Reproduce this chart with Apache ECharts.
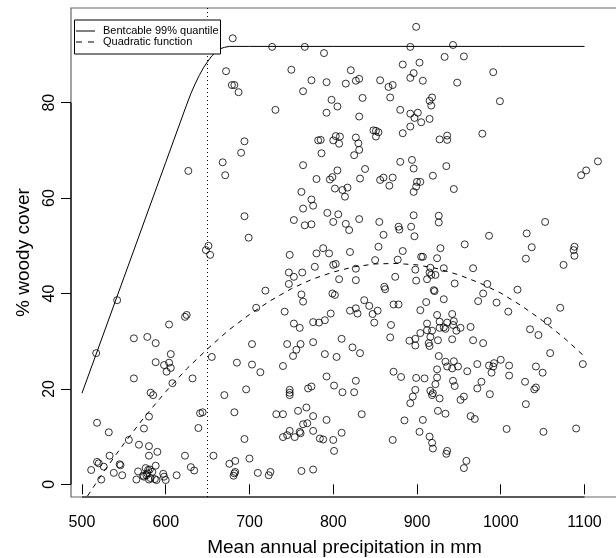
<!DOCTYPE html>
<html>
<head>
<meta charset="utf-8">
<script src="https://cdn.jsdelivr.net/npm/echarts@6/dist/echarts.min.js"></script>
<style>
html,body{margin:0;padding:0;background:#fff;}
#chart{width:616px;height:558px;}
</style>
</head>
<body>
<div id="chart"></div>
<script>
// Mean annual precipitation (mm) of each site
const precip = [
680,672,679,682,687,694,690,668,627,671,694,699,651,648,653,542,625,623,604,517,
562,578,588,606,588,598,604,606,601,562,608,632,582,585,655,703,685,703,713,696,
670,580,641,644,682,518,532,574,639,556,568,580,590,580,533,518,520,511,526,545,
546,538,548,523,565,567,573,576,578,579,581,574,577,582,584,588,587,589,580,597,
598,600,623,630,634,613,657,676,683,683,681,682,700,710,694,
745,761,756,752,776,810,823,832,790,804,740,792,801,811,827,825,748,748,748,770,
774,732,740,758,768,776,792,764,769,834,748,745,740,754,760,761,776,784,788,800,
810,801,723,725,762,776,868,891,898,898,904,912,916,914,915,925,926,872,881,899,
909,924,924,922,898,895,892,916,918,919,927,925,885,907,903,915,918,919,871,
942,967,979,1059,1098,934,936,942,944,949,960,972,986,992,991,989,1000,1010,1010,1042,
1050,1029,1040,1042,943,945,977,972,987,956,952,1030,934,964,969,1007,1051,1090,936,935,
959,956,
899,727,766,892,789,750,883,903,821,896,892,907,774,792,764,815,827,831,856,866,
871,835,868,798,805,731,792,831,880,918,915,917,892,901,897,905,915,892,883,848,
851,854,851,927,782,785,800,803,808,807,827,830,831,825,786,764,805,838,880,894,896,
943,933,956,991,948,999,936,936,978,935,1116,1102,1096,
780,796,799,832,856,860,871,900,904,899,896,867,802,811,817,814,762,774,776,764,
793,806,753,766,774,800,815,819,831,855,878,879,893,896,926,926,860,897,748,780,
788,795,820,854,883,905,907,928,924,850,877,778,800,803,827,747,753,763,747,807,
827,874,898,899,912,916,915,917,922,719,762,764,799,802,861,862,920,921,708,742,
753,760,776,783,790,797,820,827,829,837,843,847,853,849,872,878,869,911,904,924,
912,918,927,
919,944,1053,986,1031,957,1037,1088,1087,1088,1030,1075,932,967,945,984,1020,979,973,995,
932,1009,1071,1056,942,927,936,944,932,934,943,947,952,964,1035,1045
];
// % woody cover of each site
const woody = [
93.5,86.6,83.7,83.7,82.2,71.9,69.5,67.5,65.7,64.8,56.2,51.7,50.0,49.1,48.1,38.6,35.5,35.1,33.5,27.5,
30.6,30.9,29.6,27.3,25.6,25.0,25.5,24.4,23.6,22.2,21.2,22.2,19.2,18.7,26.7,29.4,25.5,25.1,23.5,19.9,
18.7,14.2,14.9,15.1,15.1,12.9,10.9,11.7,11.8,9.3,8.3,8.0,6.8,6.0,6.0,4.7,4.4,3.0,3.7,4.2,
4.0,2.4,1.9,1.0,1.0,2.7,1.8,3.4,2.3,3.0,3.1,1.6,1.9,1.3,2.6,3.9,1.1,0.9,1.0,2.2,
1.6,0.9,6.0,3.6,2.9,1.9,6.0,4.3,4.9,2.6,1.8,2.3,5.4,2.4,9.5,
29.4,29.4,28.2,26.9,29.8,30.5,28.7,27.5,27.3,26.7,24.8,22.6,20.7,19.3,21.7,19.3,19.8,19.2,18.7,20.1,
20.5,14.7,14.7,15.4,16.1,14.3,13.5,12.6,12.8,14.7,11.2,10.3,9.9,9.9,11.0,10.7,11.2,9.6,9.4,9.3,
10.8,7.0,1.9,2.6,2.8,3.1,30.8,30.1,30.5,29.1,31.7,32.3,30.9,29.6,29.0,30.2,26.9,23.6,22.5,22.3,
22.2,24.1,22.4,21.0,19.8,18.4,17.0,19.6,18.7,19.1,18.0,15.4,13.4,13.5,11.0,10.0,8.7,7.5,9.3,
30.4,30.2,29.6,27.5,25.2,25.7,24.7,24.3,25.8,24.7,23.7,25.2,24.9,25.4,24.7,23.4,26.1,24.9,22.8,24.7,
23.4,21.5,19.9,20.3,21.7,20.6,21.5,20.1,18.9,18.4,17.7,16.8,14.8,14.3,13.7,11.6,11.0,11.7,7.0,6.4,
4.9,3.4,
95.9,91.7,91.7,91.7,90.4,86.9,88.0,88.4,86.8,86.2,85.2,84.6,84.7,84.3,82.4,84.0,84.6,85.0,84.7,83.3,
83.7,81.0,81.1,80.6,79.2,78.5,77.9,77.1,78.5,81.1,80.4,79.4,77.7,77.9,76.8,75.9,76.6,75.0,73.6,74.2,
74.1,73.8,72.9,72.3,72.1,72.2,72.1,73.0,72.9,71.4,72.7,71.5,70.1,69.0,69.4,66.9,65.8,66.1,67.6,68.0,66.2,
92.1,89.6,89.7,86.4,84.2,80.3,73.1,72.2,73.5,66.7,67.7,65.8,64.8,
64.0,63.9,64.4,64.1,63.8,64.3,64.3,63.4,63.4,62.4,61.3,62.6,62.0,61.7,62.2,60.3,61.3,59.7,58.4,57.8,
56.9,56.6,55.4,54.3,54.5,55.0,54.6,53.3,55.6,55.0,54.0,53.4,54.0,56.4,56.3,54.9,52.3,52.0,48.1,48.4,
49.5,48.4,48.7,49.8,48.9,47.7,47.7,49.5,47.4,47.0,47.1,45.6,46.0,46.2,45.2,44.4,43.5,44.4,42.0,43.0,
42.8,43.5,45.0,42.7,43.0,45.4,44.4,43.9,43.9,40.6,39.8,38.3,40.0,39.7,41.4,40.9,40.7,40.5,37.0,36.2,
33.7,32.8,34.0,33.9,34.4,35.8,36.4,36.9,35.8,38.6,37.4,35.7,36.4,33.9,37.7,37.7,33.4,38.2,36.5,35.5,
33.7,32.2,32.8,
64.7,61.9,55.0,52.1,52.6,50.3,49.7,49.8,49.1,47.9,47.3,46.0,45.3,45.3,42.1,42.0,40.8,40.0,38.4,38.1,
38.8,36.2,37.0,34.2,35.7,34.1,33.9,34.2,32.9,32.6,33.4,32.2,32.8,33.0,32.5,31.3
];
// Bentcable 99% quantile curve
const bentX = [500,550,600,624,630,635,640,645,650,655,660,665,670,676,700,800,900,1000,1100];
const bentY = [19.1,43.3,67.5,79.1,81.9,83.9,85.7,87.3,88.6,89.8,90.6,91.3,91.6,91.8,91.8,91.8,91.8,91.8,91.8];
// Quadratic function curve
const quadX = [500,525,550,575,600,625,650,675,700,725,750,775,800,825,850,875,900,925,950,975,1000,1025,1050,1075,1100];
const quadY = [-4.2,2.4,8.5,14.2,19.4,24.2,28.4,32.3,35.6,38.5,41.0,43.0,44.5,45.6,46.2,46.3,46.0,45.2,43.9,42.2,40.1,37.4,34.3,30.8,26.8];
// Threshold (dotted vertical line)
const threshold = [650];
// Tick labels
const xTicks = [500,600,700,800,900,1000,1100];
const yTicks = [0,20,40,60,80];
const xRange = [486.9, 1140];
const yRange = [-2.66, 99.85];
const legendNames = ['Bentcable 99% quantile', 'Quadratic function'];

const FONT = 'Liberation Sans, Arial, Helvetica, sans-serif';
const pts = precip.map((x, i) => [x, woody[i]]);
const bent = bentX.map((x, i) => [x, bentY[i]]);
const quad = quadX.map((x, i) => [x, quadY[i]]);

const chart = echarts.init(document.getElementById('chart'), null, {renderer: 'canvas'});
chart.setOption({
  animation: false,
  backgroundColor: '#fff',
  grid: {left: 71, top: 8, bottom: 61, right: -2, outerBoundsMode: 'none', containLabel: false,
         show: true, borderColor: '#666', borderWidth: 1.2, backgroundColor: 'transparent'},
  graphic: [
    {type: 'rect', left: 74, top: 19.5, z: 100,
     shape: {width: 146, height: 34}, style: {fill: '#fff', stroke: '#000', lineWidth: 1}},
    {type: 'line', z: 101, shape: {x1: 76, y1: 31, x2: 95, y2: 31}, style: {stroke: '#000', lineWidth: 1}},
    {type: 'line', z: 101, shape: {x1: 76, y1: 42, x2: 95, y2: 42}, style: {stroke: '#000', lineWidth: 1, lineDash: [6, 6]}},
    {type: 'text', z: 101, x: 103, y: 31, style: {text: legendNames[0], font: '11px ' + FONT, fill: '#000', verticalAlign: 'middle'}},
    {type: 'text', z: 101, x: 103, y: 42, style: {text: legendNames[1], font: '11px ' + FONT, fill: '#000', verticalAlign: 'middle'}}
  ],
  xAxis: {
    type: 'value', min: xRange[0], max: xRange[1],
    axisLine: {show: false},
    splitLine: {show: false},
    axisTick: {show: true, inside: false, length: 10, lineStyle: {color: '#000', width: 1}, customValues: xTicks},
    axisLabel: {customValues: xTicks, formatter: v => String(v), fontSize: 16, fontFamily: FONT, color: '#000', margin: 18},
    name: 'Mean annual precipitation in mm', nameLocation: 'middle', nameGap: 41,
    nameTextStyle: {fontSize: 19, fontFamily: FONT, color: '#000'}
  },
  yAxis: {
    type: 'value', min: yRange[0], max: yRange[1],
    axisLine: {show: false},
    splitLine: {show: false},
    axisTick: {show: true, inside: false, length: 10, lineStyle: {color: '#000', width: 1}, customValues: yTicks},
    axisLabel: {customValues: yTicks, formatter: v => String(v), fontSize: 16, fontFamily: FONT, color: '#000', margin: 13.5, rotate: 90},
    name: '% woody cover', nameLocation: 'middle', nameGap: 36, nameRotate: 90,
    nameTextStyle: {fontSize: 19, fontFamily: FONT, color: '#000'}
  },
  series: [
    {
      type: 'scatter', name: 'sites', data: pts, symbol: 'circle', symbolSize: 7,
      itemStyle: {color: 'rgba(0,0,0,0)', borderColor: '#000', borderWidth: 1}, silent: true
    },
    {
      type: 'line', name: legendNames[0], data: bent, smooth: false, symbol: 'none', showSymbol: false,
      lineStyle: {color: '#000', width: 1}, itemStyle: {color: '#000'}, silent: true
    },
    {
      type: 'line', name: legendNames[1], data: quad, smooth: false, symbol: 'none', showSymbol: false,
      lineStyle: {color: '#000', width: 1, type: [5, 5]}, itemStyle: {color: '#000'}, silent: true,
      markLine: {
        silent: true, symbol: ['none', 'none'], label: {show: false}, animation: false,
        lineStyle: {color: '#000', width: 1, type: [1, 3]},
        data: [{xAxis: threshold[0]}]
      }
    },
    {
      type: 'line', name: 'xaxis', clip: false, symbol: 'none', silent: true,
      data: [[xTicks[0], yRange[0]], [xTicks[xTicks.length - 1], yRange[0]]],
      lineStyle: {color: '#000', width: 1.2}
    },
    {
      type: 'line', name: 'yaxis', clip: false, symbol: 'none', silent: true,
      data: [[xRange[0], yTicks[0]], [xRange[0], yTicks[yTicks.length - 1]]],
      lineStyle: {color: '#000', width: 1.2}
    }
  ]
});
</script>
</body>
</html>
